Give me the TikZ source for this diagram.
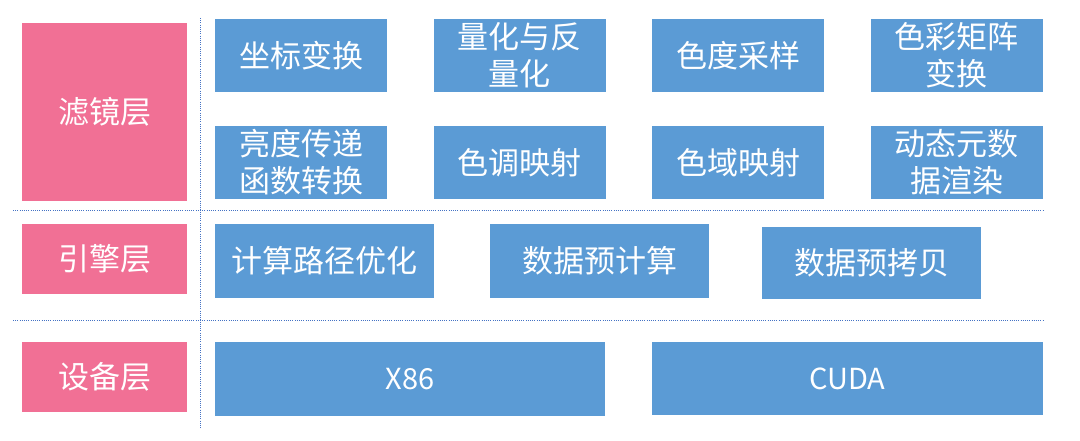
\documentclass[tikz,border=0pt]{standalone}
\usepackage{fontspec}
\usepackage{tikz}
\newfontfamily\cjk{Noto Sans CJK SC}
\definecolor{layerpink}{RGB}{241,112,149}
\definecolor{modblue}{RGB}{91,155,213}
\definecolor{sepblue}{RGB}{68,114,196}
\newcommand*\cellw{172pt}
\newcommand*\cellh{73pt}
\tikzset{
    cell/.style      = {text=white, inner sep=0pt, outer sep=0pt, align=center,
                        font=\cjk\fontsize{31}{37}\selectfont},
    layercell/.style = {cell, fill=layerpink, minimum width=165pt, minimum height=70pt},
    bluecell/.style  = {cell, fill=modblue, minimum width=\cellw, minimum height=\cellh},
    widecell/.style  = {cell, fill=modblue, minimum width=219pt, minimum height=74pt},
    devcell/.style   = {cell, fill=modblue, minimum width=390pt, minimum height=74pt,
                        font=\cjk\fontsize{29}{35}\selectfont},
    sepline/.style   = {sepblue, line width=1pt, dash pattern=on 1pt off 1.2pt},
  }

\begin{document}
\begin{tikzpicture}[x=1pt,y=1pt]
      \useasboundingbox (0,0) rectangle (1080,441);

      % Layer labels on the left
      \node[layercell, minimum height=178pt] (filter) at (104.5,329) {滤镜层};
      \node[layercell] (engine) at (104.5,182) {引擎层};
      \node[layercell] (device) at (104.5,64)  {设备层};

      % Filter layer: 2 rows of 4 modules
      \foreach \t [count=\i from 0] in {坐标变换,量化与反\\量化,色度采样,色彩矩阵\\变换} {
        \node[bluecell] (F1-\i) at (301+218.5*\i,385.5) {\t};
      }
      \foreach \t [count=\i from 0] in {亮度传递\\函数转换,色调映射,色域映射,动态元数\\据渲染} {
        \node[bluecell] (F2-\i) at (301+218.5*\i,278.5) {\t};
      }

      % Engine layer
      \node[widecell] (path)  at (324,180)   {计算路径优化};
      \node[widecell] (precalc) at (599.5,180) {数据预计算};
      \node[widecell, minimum height=72pt] (precopy) at (871.5,178) {数据预拷贝};

      % Device layer
      \node[devcell] (x86)  at (410,62)    {X86};
      \node[devcell, minimum width=391pt, minimum height=73pt] (cuda) at (847.5,62.5) {CUDA};

      % Dotted separators
      \coordinate (vtop) at (200.5,423);
      \coordinate (vbot) at (200.5,13);
      \coordinate (h1l) at (13,230);
      \coordinate (h1r) at (1043,230);
      \coordinate (h2l) at (13,120);
      \coordinate (h2r) at (1043,120);
      \draw[sepline] (vtop) -- (vbot);
      \draw[sepline] (h1l) -- (h1r);
      \draw[sepline] (h2l) -- (h2r);
    \end{tikzpicture}
\end{document}
